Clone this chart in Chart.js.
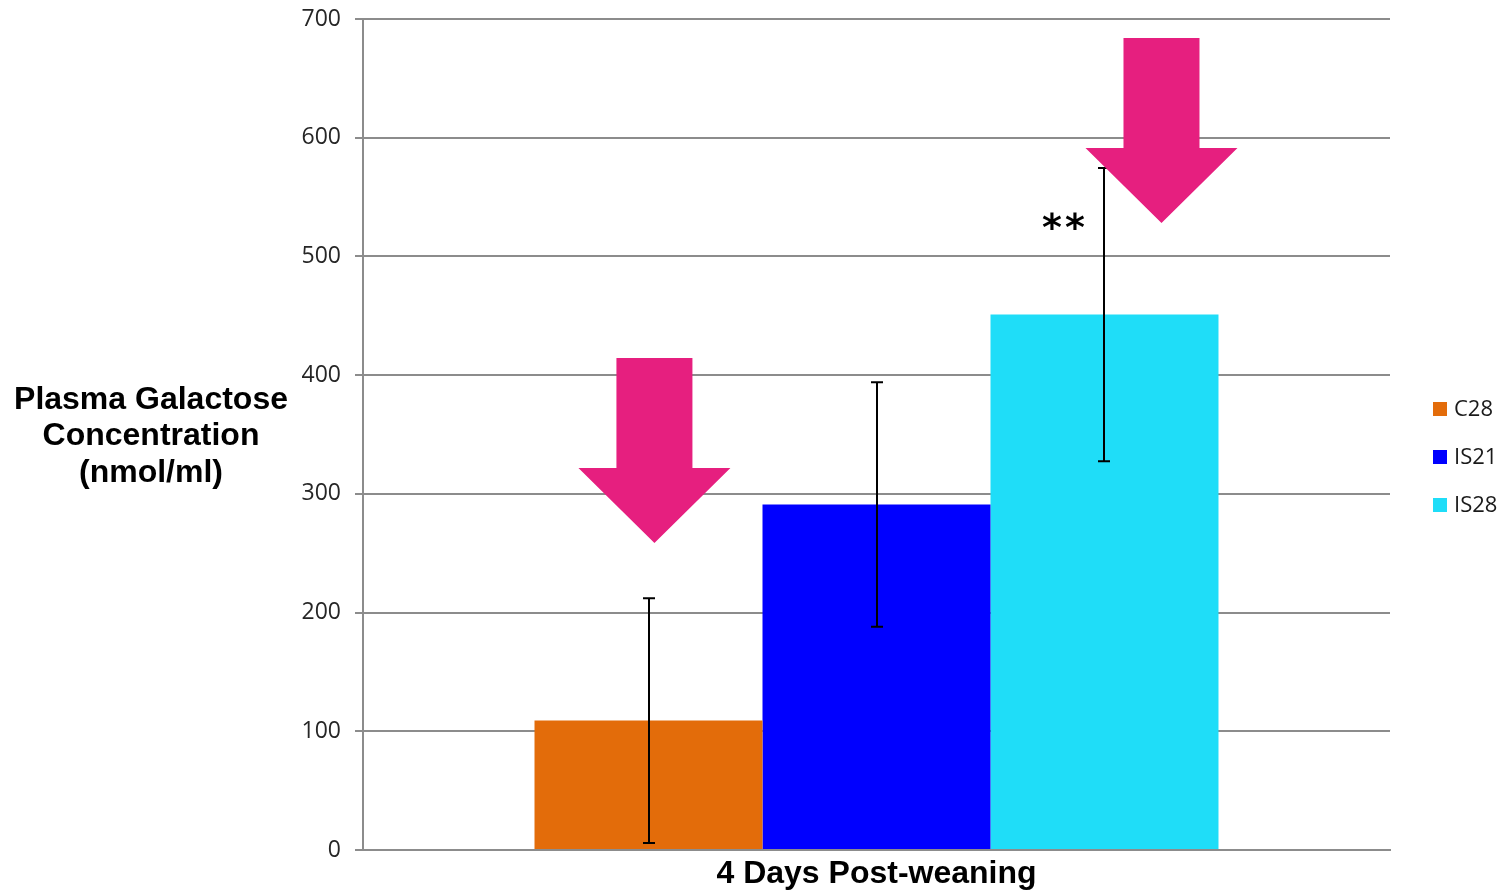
<!DOCTYPE html>
<html>
<head>
<meta charset="utf-8">
<title>Plasma Galactose Concentration</title>
<script src="https://cdn.jsdelivr.net/npm/chart.js@4/dist/chart.umd.min.js"></script>
<style>
  html, body { margin: 0; padding: 0; background: #ffffff; }
  #wrap { width: 1507px; height: 892px; position: relative; }
</style>
</head>
<body>
<div id="wrap"><canvas id="chart" width="1507" height="892"></canvas></div>
<script>
// Group on the x axis
const categories = ['4 Days Post-weaning'];

// Series: mean plasma galactose (nmol/ml) and error-bar half widths
const seriesNames = ['C28', 'IS21', 'IS28'];
const c28Values = [109];
const is21Values = [291];
const is28Values = [451];
const c28Errors = [103];
const is21Errors = [103];
const is28Errors = [123.5];

// Y axis ticks
const yTicks = [0, 100, 200, 300, 400, 500, 600, 700];

// Significance marker and highlight arrows (values on the y scale)
const significance = [{ series: 2, text: '**', value: 529, shift: -0.18 }];
const arrows = [
  { series: 0, top: 414.5, neck: 321.8, tip: 258.6, shift: 0.026 },
  { series: 2, top: 684, neck: 591.4, tip: 528.2, shift: 0.25 }
];

const colors = ['#E36C0A', '#0000FF', '#1FDDF8'];
const arrowColor = '#E61F7F';

const datasets = [
  { label: seriesNames[0], data: c28Values, errors: c28Errors, backgroundColor: colors[0] },
  { label: seriesNames[1], data: is21Values, errors: is21Errors, backgroundColor: colors[1] },
  { label: seriesNames[2], data: is28Values, errors: is28Errors, backgroundColor: colors[2] }
].map(d => Object.assign(d, { borderWidth: 0, categoryPercentage: 0.666, barPercentage: 1.0 }));

// Error bars with caps
const errorBarPlugin = {
  id: 'errorBars',
  afterDatasetsDraw(chart) {
    const ctx = chart.ctx;
    const y = chart.scales.y;
    ctx.save();
    ctx.strokeStyle = '#000000';
    ctx.lineWidth = 2;
    chart.data.datasets.forEach((ds, i) => {
      const meta = chart.getDatasetMeta(i);
      meta.data.forEach((bar, j) => {
        const v = ds.data[j], e = ds.errors[j];
        const yTop = y.getPixelForValue(v + e);
        const yBot = y.getPixelForValue(v - e);
        const x = Math.round(bar.x);
        ctx.beginPath();
        ctx.moveTo(x, yTop); ctx.lineTo(x, yBot);
        ctx.moveTo(x - 6, yTop); ctx.lineTo(x + 6, yTop);
        ctx.moveTo(x - 6, yBot); ctx.lineTo(x + 6, yBot);
        ctx.stroke();
      });
    });
    ctx.restore();
  }
};

// Significance stars and pink arrows drawn over the bars
const annotationPlugin = {
  id: 'annotations',
  afterDraw(chart) {
    const ctx = chart.ctx;
    const y = chart.scales.y;
    ctx.save();
    significance.forEach(s => {
      const bar = chart.getDatasetMeta(s.series).data[0];
      const x = bar.x + s.shift * bar.width;
      const yc = y.getPixelForValue(s.value);
      ctx.fillStyle = '#000000';
      ctx.font = 'bold 38px "DejaVu Sans"';
      ctx.textAlign = 'center';
      ctx.textBaseline = 'middle';
      const chars = s.text.split('');
      const gap = 23;
      chars.forEach((c, k) => {
        ctx.fillText(c, x + (k - (chars.length - 1) / 2) * gap, yc + 8);
      });
    });
    arrows.forEach(a => {
      const bar = chart.getDatasetMeta(a.series).data[0];
      const cx = bar.x + a.shift * bar.width;
      const shaft = bar.width / 6;
      const head = bar.width / 3;
      const yTop = y.getPixelForValue(a.top);
      const yNeck = y.getPixelForValue(a.neck);
      const yTip = y.getPixelForValue(a.tip);
      ctx.fillStyle = arrowColor;
      ctx.beginPath();
      ctx.moveTo(cx - shaft, yTop);
      ctx.lineTo(cx + shaft, yTop);
      ctx.lineTo(cx + shaft, yNeck);
      ctx.lineTo(cx + head, yNeck);
      ctx.lineTo(cx, yTip);
      ctx.lineTo(cx - head, yNeck);
      ctx.lineTo(cx - shaft, yNeck);
      ctx.closePath();
      ctx.fill();
    });
    ctx.restore();
  }
};

// Horizontal y-axis title and right-hand legend
const sideTextPlugin = {
  id: 'sideText',
  afterDraw(chart) {
    const ctx = chart.ctx;
    const area = chart.chartArea;
    ctx.save();
    ctx.fillStyle = '#000000';
    ctx.font = 'bold 32px "Liberation Sans", Arial, sans-serif';
    ctx.textAlign = 'center';
    ctx.textBaseline = 'middle';
    const title = ['Plasma Galactose', 'Concentration', '(nmol/ml)'];
    title.forEach((line, i) => ctx.fillText(line, 151, 400 + i * 36.5));

    const midY = (area.top + area.bottom) / 2 + 22.5;
    ctx.font = '22px "Open Sans", sans-serif';
    ctx.textAlign = 'left';
    chart.data.datasets.forEach((ds, i) => {
      const cy = midY + (i - 1) * 48;
      ctx.fillStyle = ds.backgroundColor;
      ctx.fillRect(area.right + 43, cy - 7, 14, 14);
      ctx.fillStyle = '#1a1a1a';
      ctx.fillText(ds.label, area.right + 64, cy + 1);
    });
    ctx.restore();
  }
};

new Chart(document.getElementById('chart'), {
  type: 'bar',
  data: { labels: categories, datasets: datasets },
  options: {
    responsive: false,
    animation: false,
    events: [],
    layout: { padding: { left: 0, right: 117, top: 19, bottom: 0 } },
    plugins: { legend: { display: false }, tooltip: { enabled: false } },
    scales: {
      x: {
        grid: { display: false, drawTicks: false },
        border: { display: true, color: '#8c8c8c', width: 2 },
        ticks: {
          color: '#000000',
          padding: 5,
          font: { family: '"Liberation Sans", Arial, sans-serif', size: 32, weight: 'bold' }
        },
        afterFit(scale) { scale.height = 42; }
      },
      y: {
        min: 0,
        max: 700,
        afterBuildTicks(scale) { scale.ticks = yTicks.map(v => ({ value: v })); },
        grid: { color: '#8c8c8c', lineWidth: 2, tickLength: 8, drawTicks: true },
        border: { display: true, color: '#8c8c8c', width: 2 },
        ticks: {
          color: '#262626',
          padding: 14,
          font: { family: '"Open Sans", sans-serif', size: 23 }
        },
        afterFit(scale) {
          scale.width = 363;
          scale.paddingTop = 0;
          scale.paddingBottom = 0;
        }
      }
    }
  },
  plugins: [errorBarPlugin, annotationPlugin, sideTextPlugin]
});
</script>
</body>
</html>
